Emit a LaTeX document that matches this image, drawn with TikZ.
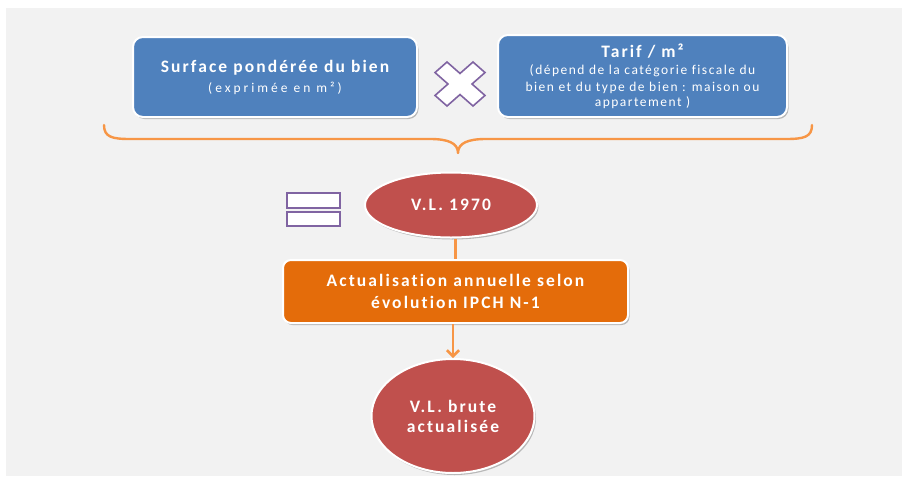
\documentclass[tikz,border=0pt]{standalone}
\usepackage{fontspec}
\setmainfont{Carlito}
\newfontfamily\wideface[LetterSpace=12,Ligatures=NoCommon]{Carlito}
\newfontfamily\widesmall[LetterSpace=11,Ligatures=NoCommon]{Carlito}
\newfontfamily\widersmall[LetterSpace=22,Ligatures=NoCommon]{Carlito}
\newcommand\headfont{\wideface\fontsize{17.5}{21}\selectfont\bfseries}
\newcommand\notefont{\widesmall\fontsize{13.5}{16}\selectfont\mdseries}
\newcommand\unitfont{\widersmall\fontsize{13.5}{16}\selectfont\mdseries}
\usetikzlibrary{shapes.geometric,shadows,arrows.meta}
\definecolor{pagegray}{HTML}{F2F2F2}
\definecolor{boxblue}{HTML}{4F81BD}
\definecolor{vlred}{HTML}{C0504D}
\definecolor{actorange}{HTML}{E46C0A}
\definecolor{lineorange}{HTML}{F79646}
\definecolor{oppurple}{HTML}{8064A2}

\begin{document}
\begin{tikzpicture}[x=1pt,y=-1pt,
  softshadow/.style={drop shadow={shadow xshift=1.5pt,shadow yshift=-2pt,opacity=0.35,fill=black!70}},
  bluebox/.style={draw=white,line width=2pt,fill=boxblue,rounded corners=10pt,softshadow,
    text=white,align=center,inner sep=0pt,font=\notefont},
  vlellipse/.style={ellipse,draw=white,line width=2pt,fill=vlred,softshadow,
    text=white,align=center,inner sep=0pt,font=\headfont},
  actbox/.style={draw=white,line width=2pt,fill=actorange,rounded corners=8pt,softshadow,
    text=white,align=center,inner sep=0pt,font=\headfont},
  opsign/.style={draw=oppurple,line width=1.6pt,fill=white},
  flow/.style={draw=lineorange,line width=2.6pt}
]
\useasboundingbox (0,0) rectangle (902,477);
\fill[white] (0,0) rectangle (902,477);
\fill[pagegray] (6,8) rectangle (902,476);

% the two factors
\node[bluebox,minimum width=284pt,minimum height=80pt] (surf) at (275,77)
  {\headfont Surface pondérée du bien\\[4pt]
   \unitfont (exprimée en m²)};
\node[bluebox,minimum width=289pt,minimum height=82pt] (tarif) at (642.5,76)
  {\headfont Tarif / m²\\[1pt]
   \notefont (dépend de la catégorie fiscale du\\[1pt]
   \notefont bien et du type de bien : maison ou\\[-1pt]
   \notefont appartement )};

% multiplication sign
\coordinate (times) at (460,84);
\filldraw[opsign,shift={(times)},x=25pt,y=-22pt]
  (-1,-0.52) -- (-0.52,-1) -- (0,-0.48) -- (0.52,-1) -- (1,-0.52) -- (0.48,0) --
  (1,0.52) -- (0.52,1) -- (0,0.48) -- (-0.52,1) -- (-1,0.52) -- (-0.48,0) -- cycle;

% brace grouping the factors
\coordinate (braceL) at (104,125);
\coordinate (braceR) at (812,125);
\coordinate (braceTip) at (458,153);
\draw[lineorange,line width=2.4pt,line cap=round,line join=round]
  (braceL) .. controls (104,137) and (112,139) .. (130,139) -- (430,139)
  .. controls (448,139) and (458,143) .. (braceTip)
  .. controls (458,143) and (468,139) .. (486,139) -- (786,139)
  .. controls (804,139) and (812,137) .. (braceR);

% equals sign
\filldraw[opsign] (287,193) rectangle (340,208);
\filldraw[opsign] (287,212) rectangle (340,226);

% flow
\node[vlellipse,minimum width=172pt,minimum height=65pt] (vl) at (451,205) {V.L. 1970};
\node[actbox,minimum width=345pt,minimum height=63pt] (act) at (455.5,291.5)
  {Actualisation annuelle selon\\[1pt] évolution IPCH N-1};
\node[vlellipse,minimum width=163pt,minimum height=114pt] (vlb) at (453,416)
  {V.L. brute\\[-1pt] actualisée};

\draw[flow] (vl.south -| act.north) -- (act.north);
\draw[flow,-{Straight Barb[length=6pt,width=12pt]}] (act.south -| vlb.north) -- (vlb.north);
\end{tikzpicture}
\end{document}
